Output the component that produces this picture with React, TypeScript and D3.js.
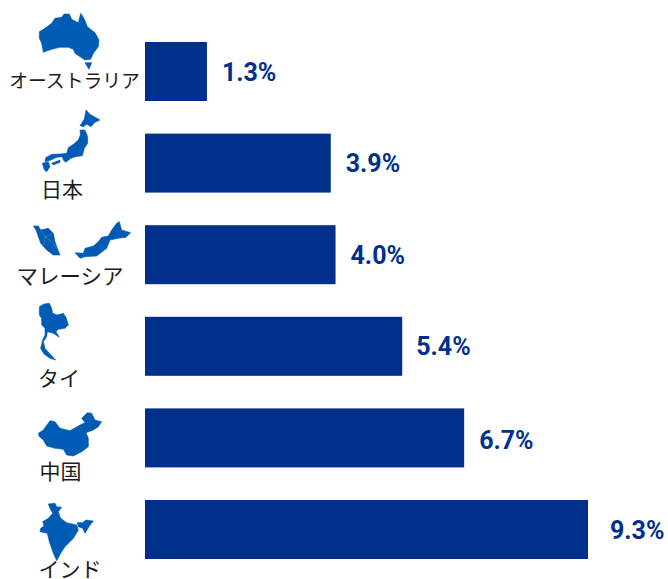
import React from "react";
import * as d3 from "d3";

// Share of each market, in percent, top to bottom.
const categories = ["オーストラリア", "日本", "マレーシア", "タイ", "中国", "インド"];
const shares = [1.3, 3.9, 4.0, 5.4, 6.7, 9.3];

const labelCentres = [74.5, 62, 70, 59, 60.5, 70];
const labelBaselines = [88, 197, 284, 386, 479, 577];
const labelSizes = [18.8, 21, 21.5, 21, 21, 21];
const valueOffsets = [15, 15, 15, 14, 15, 22];
const valueNudges = [0.5, 0, 0, 0, 2, 0];

type Ring = [number, number][];

// Simplified country silhouettes, each as rings on a 3x grid in page space.
const australia: Ring[] = [
  [[118,95],[135,85],[155,70],[165,55],[185,52],[192,42],[208,42],[215,58],[235,68],[242,40],[252,55],[262,80],[285,98],[297,120],[295,140],[280,160],[272,178],[255,180],[240,170],[225,160],[220,148],[205,142],[180,142],[155,148],[130,157],[125,130],[118,115]],
  [[255,188],[275,188],[267,208]],
];
const japan: Ring[] = [
  [[258,330],[270,343],[300,360],[285,367],[273,380],[260,373],[250,380],[240,377],[253,357]],
  [[240,390],[255,390],[263,410],[263,430],[253,445],[247,467],[227,470],[213,475],[197,487],[190,480],[187,470],[170,472],[153,480],[135,485],[137,473],[155,463],[180,462],[200,460],[205,443],[220,433],[235,420],[241,405]],
  [[127,490],[145,485],[150,500],[140,515],[133,510]],
  [[155,490],[180,480],[180,487],[160,495]],
];
const malaysia: Ring[] = [
  [[100,78],[115,78],[122,90],[145,85],[160,100],[165,125],[172,145],[180,165],[160,165],[140,150],[122,130],[115,110],[108,90]],
  [[225,158],[250,160],[255,145],[280,138],[295,125],[305,112],[325,108],[335,90],[350,70],[358,65],[365,90],[392,98],[378,112],[355,115],[330,120],[320,145],[290,168],[255,170],[240,175]],
];
const thailand: Ring[] = [
  [[118,320],[132,312],[148,310],[155,325],[158,340],[172,345],[190,340],[198,352],[205,375],[195,385],[175,388],[168,395],[178,412],[160,400],[142,395],[140,410],[130,425],[135,445],[150,462],[167,480],[150,475],[132,462],[122,445],[128,420],[135,405],[135,385],[125,375],[125,355],[118,345]],
];
const china: Ring[] = [
  [[115,130],[130,120],[150,92],[165,95],[180,115],[210,122],[240,105],[255,98],[245,85],[262,68],[275,70],[285,90],[305,95],[295,110],[280,120],[258,128],[265,145],[265,170],[245,185],[220,198],[200,195],[190,178],[165,175],[140,168],[130,150],[118,140]],
];
const india: Ring[] = [
  [[145,342],[165,340],[170,350],[185,352],[175,365],[182,385],[200,398],[230,405],[235,420],[220,445],[195,470],[182,490],[170,512],[160,490],[148,455],[142,430],[120,425],[122,415],[132,408],[128,395],[145,385],[158,370],[150,355]],
  [[232,398],[248,398],[258,390],[280,393],[268,408],[255,430],[248,415],[235,410]],
];

// State borders on the Malay peninsula.
const peninsulaBorders: Ring[] = [
  [[122,92],[135,110],[160,100]],
  [[135,110],[132,135]],
  [[135,110],[160,130],[172,148]],
];

// Pairs each silhouette with the top of the strip its grid was laid out on.
const silhouettes: { rings: Ring[]; top: number }[] = [
  { rings: australia, top: 0 },
  { rings: japan, top: 0 },
  { rings: malaysia, top: 200 },
  { rings: thailand, top: 200 },
  { rings: china, top: 390 },
  { rings: india, top: 390 },
];

const BAR = "#00308c";
const MAP = "#005bb5";

export default function App() {
  const x = d3.scaleLinear().domain([0, 9.3]).range([145, 588]);
  const y = d3
    .scaleBand<string>()
    .domain(categories)
    .range([42, 559])
    .paddingInner(0.356)
    .paddingOuter(0);
  const closed = d3
    .line<[number, number]>()
    .x((d) => d[0] / 3)
    .y((d) => d[1] / 3)
    .curve(d3.curveLinearClosed);
  const open = d3
    .line<[number, number]>()
    .x((d) => d[0] / 3)
    .y((d) => d[1] / 3);

  return (
    <svg
      width={668}
      height={579}
      style={{ position: "fixed", left: 0, top: 0, display: "block", background: "#fff" }}
    >
      {silhouettes.map((s, i) => (
        <g key={i} transform={`translate(0,${s.top})`}>
          {s.rings.map((r, j) => (
            <path
              key={j}
              d={closed(r) ?? ""}
              fill={MAP}
              stroke={MAP}
              strokeWidth={0.6}
              strokeLinejoin="round"
            />
          ))}
        </g>
      ))}
      <g transform="translate(0,200)">
        {peninsulaBorders.map((r, i) => (
          <path key={i} d={open(r) ?? ""} fill="none" stroke="#5b95d3" strokeWidth={0.5} />
        ))}
      </g>
      {categories.map((c, i) => (
        <g key={c}>
          <rect
            x={x(0)}
            y={y(c)}
            width={x(shares[i]) - x(0)}
            height={y.bandwidth()}
            fill={BAR}
          />
          <text
            x={labelCentres[i]}
            y={labelBaselines[i]}
            textAnchor="middle"
            fontFamily="'Noto Sans CJK JP', sans-serif"
            fontSize={labelSizes[i]}
            fill="#1c1c1c"
          >
            {c}
          </text>
          <text
            x={x(shares[i]) + valueOffsets[i]}
            y={(y(c) ?? 0) + y.bandwidth() / 2 + valueNudges[i]}
            dy="0.36em"
            fontFamily="Roboto, sans-serif"
            fontWeight={700}
            fontSize={25}
            fill={BAR}
          >
            {shares[i].toFixed(1)}%
          </text>
        </g>
      ))}
    </svg>
  );
}
